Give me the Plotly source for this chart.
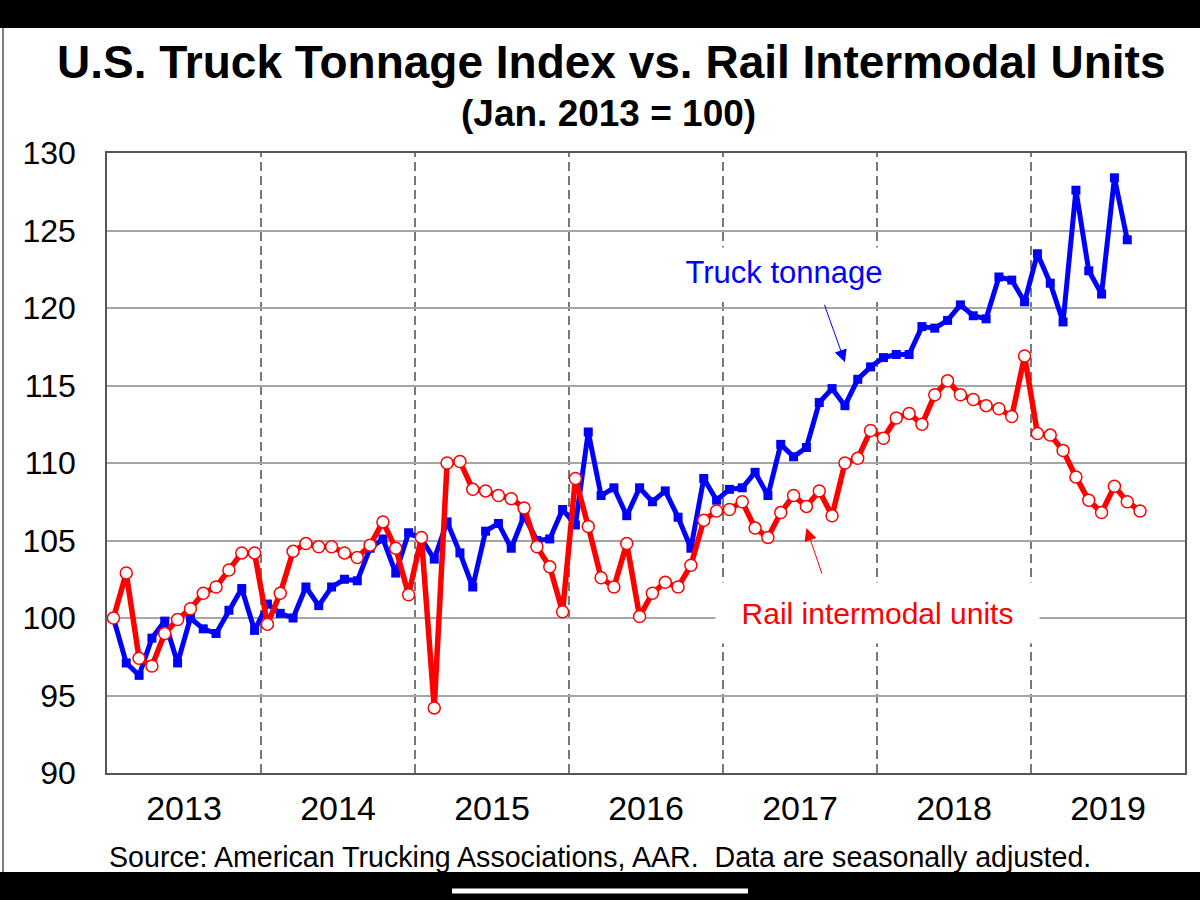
import numpy as np
import plotly.graph_objects as go

# monthly index values, Jan 2013 = 100
truck = [100.0, 97.1, 96.3, 98.7, 99.8, 97.1, 100.0, 99.3, 99.0, 100.5, 101.9, 99.2,
         100.9, 100.3, 100.0, 102.0, 100.8, 102.0, 102.5, 102.4, 104.5, 105.1, 102.9, 105.5,
         105.1, 103.8, 106.2, 104.2, 102.0, 105.6, 106.1, 104.5, 106.6, 105.0, 105.1, 107.0,
         106.0, 112.0, 107.9, 108.4, 106.6, 108.4, 107.5, 108.2, 106.5, 104.5, 109.0, 107.6,
         108.3, 108.4, 109.4, 107.9, 111.2, 110.4, 111.0, 113.9, 114.8, 113.7, 115.4, 116.2,
         116.8, 117.0, 117.0, 118.8, 118.7, 119.2, 120.2, 119.5, 119.3, 122.0, 121.8, 120.4,
         123.5, 121.6, 119.1, 127.6, 122.4, 120.9, 128.4, 124.4]

rail = [100.0, 102.9, 97.4, 96.9, 99.0, 99.9, 100.6, 101.6, 102.0, 103.1, 104.2, 104.2,
        99.6, 101.6, 104.3, 104.8, 104.6, 104.6, 104.2, 103.9, 104.7, 106.2, 104.5, 101.5,
        105.2, 94.2, 110.0, 110.1, 108.3, 108.2, 107.9, 107.7, 107.1, 104.6, 103.3, 100.4,
        109.0, 105.9, 102.6, 102.0, 104.8, 100.1, 101.6, 102.3, 102.0, 103.4, 106.3, 106.9,
        107.0, 107.5, 105.8, 105.2, 106.8, 107.9, 107.2, 108.2, 106.6, 110.0, 110.3, 112.1,
        111.6, 112.9, 113.2, 112.5, 114.4, 115.3, 114.4, 114.1, 113.7, 113.5, 113.0, 116.9,
        111.9, 111.8, 110.8, 109.1, 107.6, 106.8, 108.5, 107.5, 106.9]

years = ["2013", "2014", "2015", "2016", "2017", "2018", "2019"]
y_ticks = [90, 95, 100, 105, 110, 115, 120, 125, 130]

FONT = "Arial, Liberation Sans, sans-serif"

fig = go.Figure()

fig.add_trace(go.Scatter(x=np.arange(len(truck)), y=truck, mode="lines+markers", name="Truck tonnage",
                         line=dict(color="#0000ff", width=5),
                         marker=dict(symbol="square", size=9, color="#0000ff")))
fig.add_trace(go.Scatter(x=np.arange(len(rail)), y=rail, mode="lines+markers", name="Rail intermodal units",
                         line=dict(color="#ff0000", width=5.5),
                         marker=dict(symbol="circle", size=12, color="white",
                                     line=dict(color="#ff0000", width=1.5))))

# dashed year separators
shapes = []
for i in range(1, len(years)):
    xv = 12 * i - 0.5
    shapes.append(dict(type="line", xref="x", yref="paper", x0=xv, x1=xv, y0=0, y1=1,
                       line=dict(color="#404040", width=1.4, dash="9px,5px"), layer="below"))

# pixel -> paper helpers (plot area spans x 107..1185, y 153..773)
def px_x(p):
    return (p - 107) / 1078.0

def px_y(p):
    return (773 - p) / 620.0

# phone screenshot frame: black bars top/bottom, home indicator
shapes.append(dict(type="rect", xref="paper", yref="paper", x0=px_x(-5), x1=px_x(1205),
                   y0=px_y(28), y1=px_y(-5), fillcolor="black", line=dict(width=0), layer="above"))
shapes.append(dict(type="rect", xref="paper", yref="paper", x0=px_x(-5), x1=px_x(1205),
                   y0=px_y(905), y1=px_y(872), fillcolor="black", line=dict(width=0), layer="above"))
shapes.append(dict(type="line", xref="paper", yref="paper", x0=px_x(452), x1=px_x(748),
                   y0=px_y(891), y1=px_y(891), line=dict(color="white", width=5), layer="above"))
shapes.append(dict(type="line", xref="paper", yref="paper", x0=px_x(3), x1=px_x(3),
                   y0=px_y(872), y1=px_y(28), line=dict(color="#555555", width=1.5), layer="above"))

annotations = [
    dict(text="<b>U.S. Truck Tonnage Index vs. Rail Intermodal Units</b>", xref="paper", yref="paper",
         x=px_x(611), y=px_y(62), showarrow=False, xanchor="center", yanchor="middle",
         font=dict(family=FONT, size=46, color="black")),
    dict(text="<b>(Jan. 2013 = 100)</b>", xref="paper", yref="paper",
         x=px_x(608), y=px_y(113), showarrow=False, xanchor="center", yanchor="middle",
         font=dict(family=FONT, size=37, color="black")),
    dict(text="Source: American Trucking Associations, AAR.  Data are seasonally adjusted.",
         xref="paper", yref="paper", x=px_x(107), y=px_y(857), showarrow=False,
         xanchor="left", yanchor="middle", font=dict(family=FONT, size=28.6, color="black")),
    # labels with white boxes
    dict(text="Truck tonnage", xref="paper", yref="paper", x=px_x(784), y=px_y(272),
         showarrow=False, xanchor="center", yanchor="middle", bgcolor="white",
         width=230, height=47, font=dict(family=FONT, size=31, color="#0000ff")),
    dict(text="Rail intermodal units", xref="paper", yref="paper", x=px_x(877), y=px_y(613),
         showarrow=False, xanchor="center", yanchor="middle", bgcolor="white",
         width=321, height=58, font=dict(family=FONT, size=30, color="#ff0000")),
    # arrows
    dict(text="", x=57.0, y=116.5, xref="x", yref="y", showarrow=True, ax=-21, ay=-59,
         arrowhead=2, arrowsize=2.5, arrowwidth=1, arrowcolor="#0000ff"),
    dict(text="", x=54.0, y=105.8, xref="x", yref="y", showarrow=True, ax=16, ay=47,
         arrowhead=2, arrowsize=2.5, arrowwidth=1, arrowcolor="#ff0000"),
]

fig.update_layout(
    width=1200, height=900,
    margin=dict(l=107, r=15, t=153, b=127),
    paper_bgcolor="white", plot_bgcolor="white",
    showlegend=False,
    font=dict(family=FONT, color="black"),
    shapes=shapes, annotations=annotations,
    xaxis=dict(range=[-0.5, 83.5], tickvals=[12 * i + 5.5 for i in range(len(years))],
               ticktext=years, showgrid=False, zeroline=False, ticks="",
               showline=True, linecolor="#555555", linewidth=1.5, mirror=True,
               tickfont=dict(size=34, family=FONT), ticklabelstandoff=4),
    yaxis=dict(range=[90, 130], tickvals=y_ticks, showgrid=True, gridcolor="#a6a6a6", gridwidth=1.5,
               zeroline=False, ticks="", showline=True, linecolor="#555555", linewidth=1.5, mirror=True,
               tickfont=dict(size=32, family=FONT), ticklabelstandoff=23),
)

fig.write_html("out.html", config={"displayModeBar": False},
               post_script="document.body.style.margin='0';")
